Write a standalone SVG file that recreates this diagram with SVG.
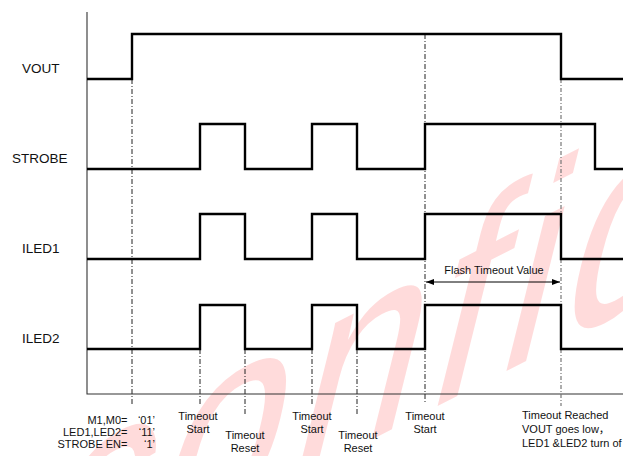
<svg xmlns="http://www.w3.org/2000/svg" width="623" height="456" viewBox="0 0 623 456">
<style>
text{font-family:"Liberation Sans",Arial,"Noto Sans CJK SC",sans-serif;fill:#111}
.lbl{font-size:13.5px}
.sm{font-size:11px}
.mid{text-anchor:middle}
.end{text-anchor:end}
.sig{fill:none;stroke:#000;stroke-width:2.4;stroke-linejoin:miter}
.axis{fill:none;stroke:#333;stroke-width:1.1}
.guide{fill:none;stroke:#222;stroke-width:1;stroke-dasharray:5 2 1 2}
.guide2{fill:none;stroke:#777;stroke-width:1.2;stroke-dasharray:4 2 1 2}
.wm{font-family:"Liberation Sans",Arial,sans-serif;font-size:280px;letter-spacing:14px;fill:#ff0000;fill-opacity:0.14}
</style>
<defs>
<marker id="ah" viewBox="0 0 8 6" refX="8" refY="3" markerWidth="8" markerHeight="6" markerUnits="userSpaceOnUse" orient="auto-start-reverse">
<path d="M0,0 L8,3 L0,6 Z" fill="#000"/>
</marker>
</defs>
<rect width="623" height="456" fill="#fff"/>
<g id="watermark">
<text class="wm" transform="matrix(0.802,-0.409,-0.261,1.048,22,618)">confidential</text>
</g>
<g id="axes">
<path class="axis" d="M87,12 V394 H623"/>
</g>
<g id="connectors">
<path class="guide" d="M132,79 V404"/>
<path class="guide" d="M200,349 V404"/>
<path class="guide" d="M245,349 V415"/>
<path class="guide" d="M312,349 V404"/>
<path class="guide" d="M357,349 V415"/>
<path class="guide" d="M425,34 V404"/>
<path class="guide2" d="M561,79 V406"/>
<path d="M426,282 H560" fill="none" stroke="#000" stroke-width="1" marker-start="url(#ah)" marker-end="url(#ah)"/>
</g>
<g id="vout">
<text class="lbl" x="22" y="73">VOUT</text>
<path class="sig" d="M87,79 H132 V34 H561 V79 H623"/>
</g>
<g id="strobe">
<text class="lbl" x="12" y="163">STROBE</text>
<path class="sig" d="M87,169 H200 V124 H245 V169 H312 V124 H357 V169 H425 V124 H595 V169 H623"/>
</g>
<g id="iled1">
<text class="lbl" x="22" y="253">ILED1</text>
<path class="sig" d="M87,259 H200 V214 H245 V259 H312 V214 H357 V259 H425 V214 H561 V259 H623"/>
</g>
<g id="iled2">
<text class="lbl" x="22" y="343">ILED2</text>
<path class="sig" d="M87,349 H200 V305 H245 V349 H312 V305 H357 V349 H425 V305 H561 V349 H623"/>
</g>
<g id="flash-timeout">
<text class="sm mid" x="494" y="274">Flash Timeout Value</text>
</g>
<g id="config">
<text class="sm end" x="127.5" y="424">M1,M0=</text>
<text class="sm end" x="155" y="424">‘01’</text>
<text class="sm end" x="127.5" y="436">LED1,LED2=</text>
<text class="sm end" x="155" y="436">‘11’</text>
<text class="sm end" x="127.5" y="448">STROBE EN=</text>
<text class="sm end" x="155" y="448">‘1’</text>
</g>
<g id="ev-start1">
<text class="sm mid" x="198" y="420">Timeout</text>
<text class="sm mid" x="198" y="433">Start</text>
</g>
<g id="ev-reset1">
<text class="sm mid" x="245" y="439">Timeout</text>
<text class="sm mid" x="245" y="452">Reset</text>
</g>
<g id="ev-start2">
<text class="sm mid" x="312" y="420">Timeout</text>
<text class="sm mid" x="312" y="433">Start</text>
</g>
<g id="ev-reset2">
<text class="sm mid" x="358" y="439">Timeout</text>
<text class="sm mid" x="358" y="452">Reset</text>
</g>
<g id="ev-start3">
<text class="sm mid" x="425" y="420">Timeout</text>
<text class="sm mid" x="425" y="433">Start</text>
</g>
<g id="ev-reached">
<text class="sm" x="522" y="419">Timeout Reached</text>
<text class="sm" x="522" y="433">VOUT goes low，</text>
<text class="sm" x="522" y="447">LED1 &amp;LED2 turn of</text>
</g>
</svg>
